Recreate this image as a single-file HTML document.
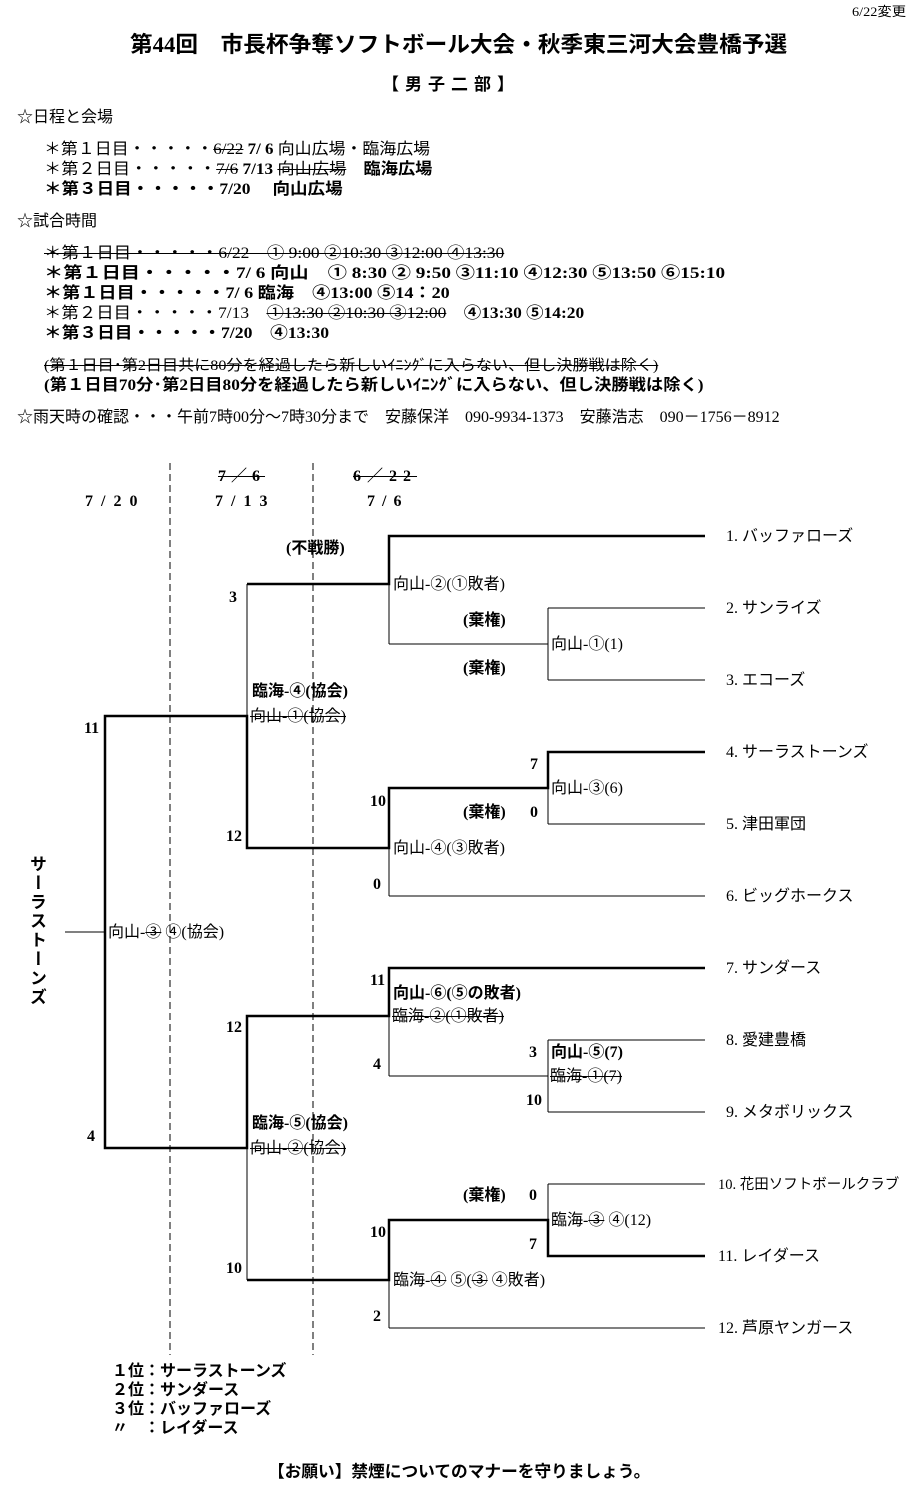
<!DOCTYPE html>
<html><head><meta charset="utf-8"><style>
body{margin:0;background:#fff;}
#p{position:relative;width:924px;height:1497px;overflow:hidden;font-family:"Liberation Serif","Noto Sans CJK JP",serif;color:#000;}
.t{position:absolute;white-space:nowrap;font-size:16px;line-height:18px;transform-origin:0 0;}
.b{font-weight:bold;}
.s{text-decoration:line-through;}
svg{position:absolute;left:0;top:0;}
</style></head><body><div id="p">
<svg width="924" height="1497">
<g stroke="#000" fill="none" stroke-width="1">
<line x1="170" y1="463" x2="170" y2="1355" stroke-dasharray="7,4"/>
<line x1="313" y1="463" x2="313" y2="1355" stroke-dasharray="7,4"/>
<line x1="548" y1="608" x2="705" y2="608"/><line x1="548" y1="680" x2="705" y2="680"/>
<line x1="548" y1="608" x2="548" y2="680"/><line x1="389" y1="644" x2="548" y2="644"/>
<line x1="389" y1="584" x2="389" y2="644"/>
<line x1="548" y1="824" x2="705" y2="824"/><line x1="548" y1="788" x2="548" y2="824"/>
<line x1="389" y1="896" x2="705" y2="896"/><line x1="389" y1="848" x2="389" y2="896"/>
<line x1="247" y1="584" x2="247" y2="716"/>
<line x1="548" y1="1040" x2="705" y2="1040"/><line x1="548" y1="1112" x2="705" y2="1112"/>
<line x1="548" y1="1040" x2="548" y2="1112"/><line x1="389" y1="1076" x2="548" y2="1076"/>
<line x1="389" y1="1016" x2="389" y2="1076"/>
<line x1="548" y1="1184" x2="705" y2="1184"/><line x1="548" y1="1184" x2="548" y2="1220"/>
<line x1="389" y1="1328" x2="705" y2="1328"/><line x1="389" y1="1280" x2="389" y2="1328"/>
<line x1="247" y1="1148" x2="247" y2="1280"/>
<line x1="65" y1="932" x2="105" y2="932"/>
</g>
<g stroke="#000" fill="none" stroke-width="2.5">
<polyline points="705,536 389,536 389,584 247,584"/>
<polyline points="705,752 548,752 548,788 389,788 389,848 247,848 247,716 105,716 105,1148 247,1148 247,1016 389,1016 389,968 705,968"/>
<polyline points="705,1256 548,1256 548,1220 389,1220 389,1280 247,1280"/>
</g>
</svg>
<div class="t" style="left:852px;top:3px;font-size:13px;transform:scaleX(1.1);">6/22変更</div>
<div class="t b" style="left:130px;top:32px;font-size:22px;line-height:26px;transform:scaleX(1.03);">第44回　市長杯争奪ソフトボール大会・秋季東三河大会豊橋予選</div>
<div class="t b" style="left:382px;top:76px;font-size:17px;letter-spacing:6px;">【男子二部】</div>
<div class="t" style="left:17px;top:109px;">☆日程と会場</div>
<div class="t" style="left:44px;top:141px;transform:scaleX(1.058);">＊第１日目・・・・・<span class="s">6/22</span> <b>7/ 6</b> 向山広場・臨海広場</div>
<div class="t" style="left:44px;top:161px;transform:scaleX(1.076);">＊第２日目・・・・・<span class="s">7/6</span> <b>7/13</b> <span class="s">向山広場</span>　<b>臨海広場</b></div>
<div class="t b" style="left:44px;top:181px;transform:scaleX(1.096);">＊第３日目・・・・・7/20　 向山広場</div>
<div class="t" style="left:17px;top:213px;">☆試合時間</div>
<div class="t s" style="left:44px;top:245px;transform:scaleX(1.09);">＊第１日目・・・・・6/22　① 9:00 ②10:30 ③12:00 ④13:30</div>
<div class="t b" style="left:44px;top:265px;transform:scaleX(1.2);">＊第１日目・・・・・7/ 6 向山　① 8:30 ② 9:50 ③11:10 ④12:30 ⑤13:50 ⑥15:10</div>
<div class="t b" style="left:44px;top:285px;transform:scaleX(1.134);">＊第１日目・・・・・7/ 6 臨海　④13:00 ⑤14：20</div>
<div class="t" style="left:44px;top:305px;transform:scaleX(1.088);">＊第２日目・・・・・7/13　<span class="s">①13:30 ②10:30 ③12:00</span>　<b>④13:30 ⑤14:20</b></div>
<div class="t b" style="left:44px;top:325px;transform:scaleX(1.106);">＊第３日目・・・・・7/20　④13:30</div>
<div class="t s" style="left:44px;top:357px;font-size:15px;transform:scaleX(1.073);">(第１日目･第2日目共に80分を経過したら新しいｲﾆﾝｸﾞに入らない、但し決勝戦は除く)</div>
<div class="t b" style="left:44px;top:377px;transform:scaleX(1.08);">(第１日目70分･第2日目80分を経過したら新しいｲﾆﾝｸﾞに入らない、但し決勝戦は除く)</div>
<div class="t" style="left:17px;top:409px;">☆雨天時の確認・・・午前7時00分～7時30分まで　安藤保洋　090-9934-1373　安藤浩志　090－1756－8912</div>

<div class="t b" style="left:85px;top:493px;letter-spacing:8px;">7/20</div>
<div class="t b s" style="left:218px;top:468px;letter-spacing:5px;">7／6</div>
<div class="t b" style="left:215px;top:493px;letter-spacing:8px;">7/13</div>
<div class="t b s" style="left:353px;top:468px;letter-spacing:6px;">6／22</div>
<div class="t b" style="left:367px;top:493px;letter-spacing:7px;">7/6</div>

<div class="t" style="left:726px;top:528px;">1. バッファローズ</div>
<div class="t" style="left:726px;top:600px;">2. サンライズ</div>
<div class="t" style="left:726px;top:672px;">3. エコーズ</div>
<div class="t" style="left:726px;top:744px;">4. サーラストーンズ</div>
<div class="t" style="left:726px;top:816px;">5. 津田軍団</div>
<div class="t" style="left:726px;top:888px;">6. ビッグホークス</div>
<div class="t" style="left:726px;top:960px;">7. サンダース</div>
<div class="t" style="left:726px;top:1032px;">8. 愛建豊橋</div>
<div class="t" style="left:726px;top:1104px;">9. メタボリックス</div>
<div class="t" style="left:718px;top:1176px;font-size:14.5px;">10. 花田ソフトボールクラブ</div>
<div class="t" style="left:718px;top:1248px;">11. レイダース</div>
<div class="t" style="left:718px;top:1320px;">12. 芦原ヤンガース</div>

<div class="t b" style="left:286px;top:540px;">(不戦勝)</div>
<div class="t" style="left:393px;top:576px;">向山-②(①敗者)</div>
<div class="t b" style="left:463px;top:612px;">(棄権)</div>
<div class="t b" style="left:463px;top:660px;">(棄権)</div>
<div class="t" style="left:551px;top:636px;">向山-①(1)</div>
<div class="t b" style="left:229px;top:589px;">3</div>
<div class="t b" style="left:252px;top:683px;">臨海-④(協会)</div>
<div class="t s" style="left:250px;top:708px;">向山-①(協会)</div>
<div class="t b" style="left:84px;top:720px;">11</div>
<div class="t b" style="left:530px;top:756px;">7</div>
<div class="t" style="left:551px;top:780px;">向山-③(6)</div>
<div class="t b" style="left:370px;top:793px;">10</div>
<div class="t b" style="left:463px;top:804px;">(棄権)</div>
<div class="t b" style="left:530px;top:804px;">0</div>
<div class="t b" style="left:226px;top:828px;">12</div>
<div class="t" style="left:393px;top:840px;">向山-④(③敗者)</div>
<div class="t b" style="left:373px;top:876px;">0</div>
<div class="t b" style="left:26px;top:855px;writing-mode:vertical-rl;font-size:17px;line-height:20px;letter-spacing:2px;">サーラストーンズ</div>
<div class="t" style="left:108px;top:924px;">向山-<span class="s">③</span> ④(協会)</div>
<div class="t b" style="left:370px;top:972px;">11</div>
<div class="t b" style="left:393px;top:985px;">向山-⑥(⑤の敗者)</div>
<div class="t s" style="left:392px;top:1008px;">臨海-②(①敗者)</div>
<div class="t b" style="left:226px;top:1019px;">12</div>
<div class="t b" style="left:529px;top:1044px;">3</div>
<div class="t b" style="left:551px;top:1044px;">向山-⑤(7)</div>
<div class="t b" style="left:373px;top:1056px;">4</div>
<div class="t s" style="left:550px;top:1068px;">臨海-①(7)</div>
<div class="t b" style="left:526px;top:1092px;">10</div>
<div class="t b" style="left:252px;top:1115px;">臨海-⑤(協会)</div>
<div class="t s" style="left:250px;top:1140px;">向山-②(協会)</div>
<div class="t b" style="left:87px;top:1128px;">4</div>
<div class="t b" style="left:463px;top:1187px;">(棄権)</div>
<div class="t b" style="left:529px;top:1187px;">0</div>
<div class="t" style="left:551px;top:1212px;">臨海-<span class="s">③</span> ④(12)</div>
<div class="t b" style="left:370px;top:1224px;">10</div>
<div class="t b" style="left:529px;top:1236px;">7</div>
<div class="t b" style="left:226px;top:1260px;">10</div>
<div class="t" style="left:393px;top:1272px;">臨海-<span class="s">④</span> ⑤(<span class="s">③</span> ④敗者)</div>
<div class="t b" style="left:373px;top:1308px;">2</div>

<div class="t b" style="left:112px;top:1363px;">１位：サーラストーンズ</div>
<div class="t b" style="left:112px;top:1382px;">２位：サンダース</div>
<div class="t b" style="left:112px;top:1401px;">３位：バッファローズ</div>
<div class="t b" style="left:112px;top:1420px;">〃　：レイダース</div>
<div class="t b" style="left:268px;top:1463px;font-size:16.7px;">【お願い】禁煙についてのマナーを守りましょう。</div>
</div></body></html>
